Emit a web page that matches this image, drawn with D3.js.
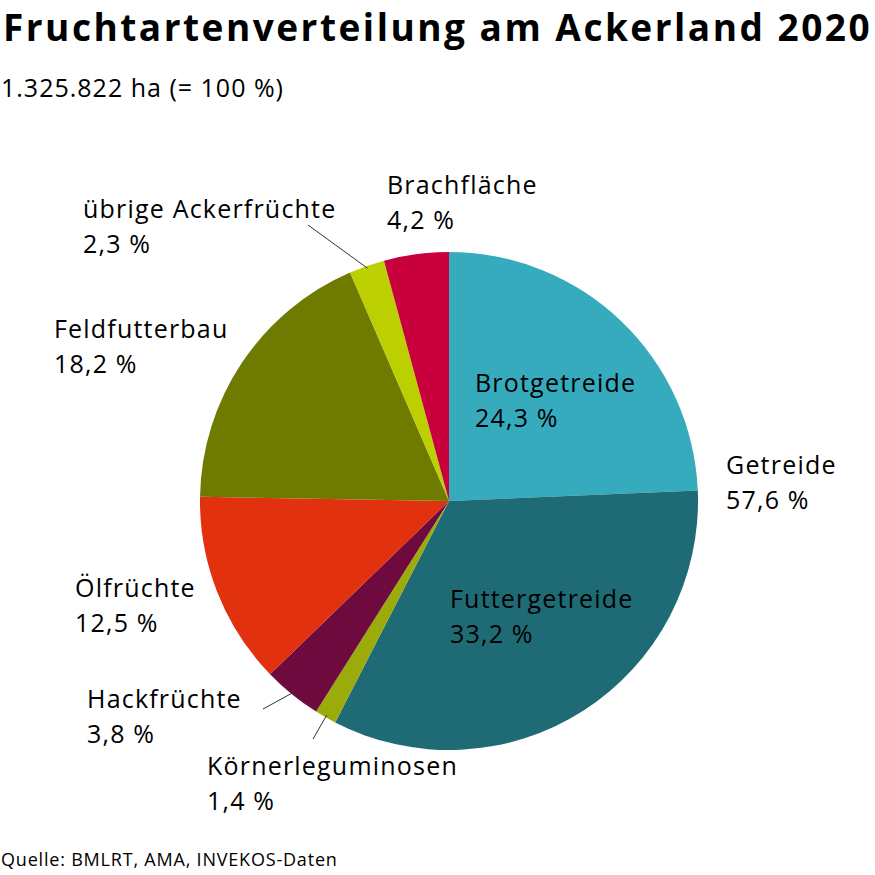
<!DOCTYPE html>
<html><head><meta charset="utf-8">
<script src="https://cdn.jsdelivr.net/npm/d3@7"></script>
<style>body{margin:0;background:#fff;} svg{display:block;}</style>
</head><body>
<script>
const categories = ["Brotgetreide","Futtergetreide","Körnerleguminosen","Hackfrüchte","Ölfrüchte","Feldfutterbau","übrige Ackerfrüchte","Brachfläche"];
const values = [24.3, 33.2, 1.4, 3.8, 12.5, 18.2, 2.3, 4.2];
const colors = ["#35abbd","#1f6b75","#9aab0a","#6e0a3e","#e2310f","#6f7a00","#bccf00","#c8003c"];
const labelText = ["24,3 %","33,2 %","1,4 %","3,8 %","12,5 %","18,2 %","2,3 %","4,2 %"];
const groupLabel = ["Getreide","57,6 %"];

const W=875,H=875, cx=449, cy=501, R=249;
const font = "'Open Sans', 'Noto Sans', sans-serif";
const svg = d3.select("body").append("svg").attr("width",W).attr("height",H);

svg.append("text").attr("x",3).attr("y",41).attr("font-family",font).attr("font-weight",700)
  .attr("font-size",37).attr("letter-spacing",2.5).attr("fill","#000").text("Fruchtartenverteilung am Ackerland 2020");
svg.append("text").attr("x",1).attr("y",97).attr("font-family",font)
  .attr("font-size",25).attr("letter-spacing",1.0).attr("fill","#000").text("1.325.822 ha (= 100 %)");
svg.append("text").attr("x",1).attr("y",866).attr("font-family",font)
  .attr("font-size",18).attr("letter-spacing",0.8).attr("fill","#000").text("Quelle: BMLRT, AMA, INVEKOS-Daten");

const pie = d3.pie().sort(null).value(d=>d)(values);
const arc = d3.arc().innerRadius(0).outerRadius(R);
const g = svg.append("g").attr("transform",`translate(${cx},${cy})`);
g.selectAll("path").data(pie).join("path").attr("d",arc).attr("fill",(d,i)=>colors[i]);

const leaders = [[6,308,225],[3,263,709],[2,313,739]];
leaders.forEach(([i,x,y])=>{
  const p = pie[i], a=(p.startAngle+p.endAngle)/2;
  const r0 = R*0.99;
  svg.append("line").attr("x1",cx+Math.sin(a)*r0).attr("y1",cy-Math.cos(a)*r0)
    .attr("x2",x).attr("y2",y).attr("stroke","#333").attr("stroke-width",1);
});

const labelPos = [[475,392],[450,608],[207,775],[87,708],[75,597],[54,338],[83,218],[387,194]];
function label(x,y,l1,l2){
  const t = svg.append("text").attr("font-family",font).attr("font-size",25)
    .attr("letter-spacing",1.2).attr("fill","#000");
  t.append("tspan").attr("x",x).attr("y",y).text(l1);
  t.append("tspan").attr("x",x).attr("y",y+35).text(l2);
}
categories.forEach((c,i)=>label(labelPos[i][0],labelPos[i][1],c,labelText[i]));
label(726,474,groupLabel[0],groupLabel[1]);
</script>
</body></html>
